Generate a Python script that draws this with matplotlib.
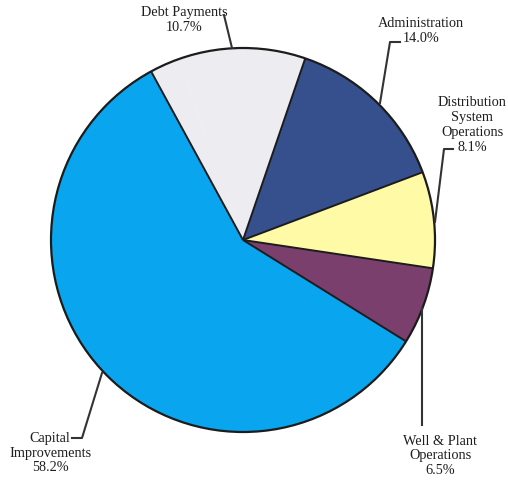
import matplotlib.pyplot as plt
from matplotlib.patches import Circle
import numpy as np

# Budget shares (percent). The labelled shares add up to 97.5, the
# unlabelled 2.5 is drawn in the same colour next to Debt Payments.
categories = ['Debt Payments', 'Administration', 'Distribution\nSystem\nOperations',
              'Well & Plant\nOperations', 'Capital\nImprovements']
shares = [10.7, 14.0, 8.1, 6.5, 58.2]
unlabelled = 2.5

colors = ['#ececf1', '#36508e', '#fffaa6', '#7a3f6c', '#0aa5ef']

fig = plt.figure(figsize=(5.08, 4.80), dpi=100)
fig.patch.set_facecolor('white')
ax = fig.add_axes([0, 0, 1, 1])

cx, cy, r = 243, 240, 192
edge = '#1c1c1c'

values = [unlabelled] + shares
wedges, _ = ax.pie(values, colors=[colors[0]] + colors, startangle=118.6,
                   counterclock=False, center=(cx, cy), radius=r,
                   wedgeprops=dict(linewidth=0))

# outline and slice borders (skipping the border inside the light slice)
ax.add_patch(Circle((cx, cy), r, fill=False, ec=edge, lw=1.6, zorder=3))
for w in wedges[1:]:
    a = np.deg2rad(w.theta1)
    ax.plot([cx, cx + r * np.cos(a)], [cy, cy + r * np.sin(a)],
            color=edge, lw=1.4, zorder=3, solid_capstyle='butt')

ax.set_xlim(0, 508)
ax.set_ylim(0, 480)
ax.set_aspect('equal')
ax.axis('off')

font = dict(family='Liberation Serif', fontsize=10.3, color='#1e1e1e',
            ha='center', va='center', linespacing=1.18)
lead = dict(color='#333333', lw=1.5, zorder=4)

# labels: text position and leader-line path (y measured upward)
labels = [
    (f'{categories[0]}\n{shares[0]:.1f}%', (184, 460), [(224, 465), (232, 432)]),
    (f'{categories[1]}\n{shares[1]:.1f}%', (421, 449), [(400, 438), (390, 438), (380, 377)]),
    (f'{categories[2]}\n{shares[2]:.1f}%', (472, 355), [(453, 331), (444, 331), (435, 258)]),
    (f'{categories[3]}\n{shares[3]:.1f}%', (440, 24), [(422, 55), (422, 172)]),
    (f'{categories[4]}\n{shares[4]:.1f}%', (50, 27), [(72, 42), (82, 42), (102, 107)]),
]
for text, (tx, ty), path in labels:
    ax.text(tx, ty, text, **font)
    xs, ys = zip(*path)
    ax.plot(xs, ys, **lead)

fig.savefig('out.png', dpi=100, facecolor='white')
